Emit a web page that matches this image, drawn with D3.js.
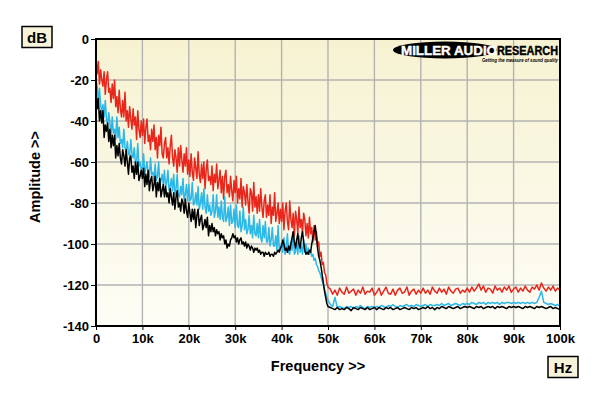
<!DOCTYPE html>
<html>
<head>
<meta charset="utf-8">
<script src="https://cdn.jsdelivr.net/npm/d3@7"></script>
<style>
  html, body { margin: 0; padding: 0; background: #ffffff; }
  svg { display: block; }
  text { font-family: 'Liberation Sans', Arial, sans-serif; }
</style>
</head>
<body>
<svg id="chart" width="600" height="396"></svg>
<script>
// frequency grid (kHz): 0.25k steps up to 50k, then 0.5k steps to 100k
const freqFine = d3.range(0, 50.001, 0.25)
const freqCoarse = d3.range(50.5, 100.001, 0.5)
const freqK = freqFine.concat(freqCoarse)

// amplitude traces (dB)
const redDb = [
  // 0-5k
  -10, -17, -11, -22, -15, -20, -23, -16, -27, -20, -16, -26, -24, -31, -22, -29, -20, -33, -28, -36,
  // 5-10k
  -25, -34, -38, -30, -38, -26, -40, -35, -43, -33, -39, -44, -34, -42, -38, -49, -35, -44, -48, -40,
  // 10-15k
  -47, -39, -51, -43, -39, -50, -47, -54, -44, -50, -42, -54, -48, -58, -47, -52, -43, -56, -58, -51,
  // 15-20k
  -48, -58, -53, -61, -52, -47, -58, -62, -54, -58, -65, -53, -62, -52, -59, -65, -56, -62, -53, -66,
  // 20-25k
  -59, -67, -56, -65, -69, -58, -63, -68, -55, -66, -70, -61, -68, -60, -73, -64, -59, -69, -67, -71,
  // 25-30k
  -62, -74, -66, -70, -61, -73, -69, -64, -75, -67, -78, -67, -64, -75, -71, -77, -67, -74, -79, -69,
  // 30-35k
  -75, -67, -80, -73, -78, -68, -82, -72, -75, -81, -71, -79, -85, -73, -75, -84, -70, -82, -77, -85,
  // 35-40k
  -76, -84, -73, -82, -87, -79, -76, -87, -81, -86, -76, -90, -82, -86, -75, -89, -85, -80, -90, -83,
  // 40-45k
  -89, -80, -93, -84, -80, -89, -93, -79, -88, -92, -85, -96, -84, -88, -95, -82, -92, -88, -95, -85,
  // 45-50k
  -88, -96, -90, -97, -87, -95, -92, -99, -91, -98, -94, -101, -99, -106, -104, -110, -109, -114, -115, -119,
  -121,
  // 50.5-60k
  -122, -124.5, -122.5, -125, -121.5, -123.5, -124.5, -121, -124, -123, -122, -125, -122.5, -124, -121, -124.5, -123, -123.5, -121.5, -125,
  // 60.5-70k
  -123.5, -121.5, -125, -123, -121, -124, -124.5, -122, -125, -122.5, -121.5, -124, -123.5, -121, -125, -123, -122, -124.5, -122.5, -124,
  // 70.5-80k
  -121.5, -124, -122.5, -124.5, -121, -123, -124, -121.5, -123.5, -122, -124.5, -121, -123, -124, -122, -121.5, -124, -122.5, -123.5, -121.5,
  // 80.5-90k
  -123.5, -121, -123, -121.5, -119.5, -122.5, -120.5, -123.5, -121.5, -122, -124, -120.5, -122.5, -121.5, -123.5, -121, -122.5, -120.5, -123.5, -122,
  // 90.5-100k
  -121, -123.5, -121.5, -123, -120.5, -122.5, -123.5, -121, -122, -120, -122.5, -119, -121.5, -123, -121, -122.5, -120.5, -123, -121.5, -122.5
]

const cyanDb = [
  // 0-5k
  -20, -23, -31, -24, -32, -36, -32, -38, -30, -39, -42, -36, -41, -47, -38, -46, -44, -49, -38, -48,
  // 5-10k
  -43, -51, -49, -53, -44, -53, -55, -50, -56, -57, -49, -56, -58, -53, -61, -60, -51, -62, -60, -64,
  // 10-15k
  -63, -56, -66, -63, -60, -66, -67, -58, -66, -65, -69, -61, -69, -67, -60, -71, -69, -66, -71, -64,
  // 15-20k
  -72, -70, -64, -74, -72, -68, -74, -66, -76, -73, -66, -76, -77, -72, -76, -68, -79, -76, -71, -79,
  // 20-25k
  -71, -79, -78, -70, -81, -80, -75, -81, -72, -83, -80, -75, -83, -73, -82, -85, -76, -84, -81, -86,
  // 25-30k
  -84, -76, -87, -84, -76, -87, -82, -88, -79, -87, -89, -77, -89, -87, -82, -91, -81, -90, -89, -83,
  // 30-35k
  -92, -81, -91, -92, -84, -94, -91, -82, -93, -88, -95, -93, -86, -95, -91, -97, -86, -95, -96, -90,
  // 35-40k
  -97, -88, -97, -99, -91, -97, -89, -99, -99, -92, -101, -98, -92, -101, -101, -96, -103, -91, -103, -101,
  // 40-45k
  -100, -104, -97, -105, -102, -95, -104, -105, -99, -103, -94, -105, -104, -98, -105, -96, -104, -101, -105, -98,
  // 45-50k
  -104, -100, -105, -102, -105, -103, -106, -105, -108, -107, -110, -111, -113, -114, -116, -118, -120, -122, -124, -126,
  -127.5,
  // 50.5-60k
  -129.5, -130.5, -126, -131, -130.5, -131, -131.5, -130.5, -131, -130.5, -131.5, -130.5, -131, -130, -131, -131.5, -130.5, -131, -130.5, -131,
  // 60.5-70k
  -130.5, -131, -130, -130.5, -131, -130, -130.5, -129.5, -130.5, -131, -130, -130.5, -130, -129.5, -130.5, -130, -130.5, -129.5, -130, -130.5,
  // 70.5-80k
  -130, -129.5, -130.5, -129.5, -130, -130, -129.5, -130, -129, -130, -129.5, -129, -130, -129.5, -129, -129.5, -130, -129, -129.5, -129,
  // 80.5-90k
  -129.5, -128.5, -129, -129.5, -128.5, -129, -128.5, -129.5, -128.5, -129, -128.5, -129, -128.5, -129.5, -128.5, -129, -128.5, -128.5, -129, -128.5,
  // 90.5-100k
  -129, -128.5, -129, -128.5, -129, -128.5, -129, -128.5, -129, -128.5, -126, -123, -128.5, -129, -129.5, -129, -129.5, -130, -129.5, -130.5
]

const blackDb = [
  // 0-5k
  -26, -34, -29, -40, -35, -41, -35, -48, -42, -45, -41, -50, -44, -53, -47, -52, -47, -58, -52, -57,
  // 5-10k
  -51, -58, -61, -54, -57, -62, -54, -60, -66, -58, -57, -65, -62, -68, -60, -66, -60, -69, -67, -64,
  // 10-15k
  -68, -63, -72, -66, -71, -64, -74, -69, -67, -74, -71, -67, -77, -70, -74, -68, -77, -74, -71, -77,
  // 15-20k
  -72, -77, -75, -80, -73, -77, -81, -75, -83, -77, -74, -82, -80, -84, -78, -80, -85, -78, -84, -87,
  // 20-25k
  -80, -85, -89, -83, -88, -83, -92, -86, -83, -91, -88, -86, -93, -91, -88, -92, -87, -96, -91, -94,
  // 25-30k
  -90, -94, -92, -96, -93, -95, -94, -98, -95, -97, -96, -100, -98, -102, -100, -101, -98, -97, -95, -97,
  // 30-35k
  -96, -99, -97, -100, -98, -97, -100, -99, -101, -99, -102, -100, -101, -103, -101, -102, -104, -102, -103, -102,
  // 35-40k
  -104, -103, -105, -104, -104, -106, -104, -105, -105, -104, -106, -105, -105, -106, -104, -105, -104, -103, -104, -102,
  // 40-45k
  -101, -98, -100, -103, -102, -104, -101, -103, -100, -97, -94, -99, -102, -98, -95, -100, -102, -97, -94, -99,
  // 45-50k
  -103, -105, -104, -105, -103, -104, -100, -97, -94, -91, -96, -102, -106, -108, -111, -115, -119, -123, -126, -129,
  -130.5,
  // 50.5-60k
  -131, -131.5, -132, -131, -132, -131.5, -132, -131, -131.5, -132.5, -131, -131.5, -132, -131, -131.5, -132, -131, -132, -131.5, -131,
  // 60.5-70k
  -132, -131, -131.5, -132, -131, -131.5, -131, -132, -131.5, -131, -132, -131.5, -131, -131.5, -132, -131, -131.5, -131, -132, -131.5,
  // 70.5-80k
  -131, -131.5, -130.5, -131.5, -131, -132, -131, -131.5, -130.5, -131, -131.5, -130.5, -131, -131.5, -131, -130.5, -131.5, -131, -130.5, -131,
  // 80.5-90k
  -130.5, -131, -131.5, -130.5, -131, -130.5, -131.5, -131, -130.5, -131, -130.5, -131.5, -130.5, -131, -130.5, -131, -131.5, -130.5, -131, -130.5,
  // 90.5-100k
  -131, -130.5, -131, -131.5, -130.5, -131, -130.5, -131, -131.5, -130.5, -131, -130.5, -131, -131.5, -131, -130.5, -131.5, -131, -131.5, -132
]

const xTicks = [0, 10, 20, 30, 40, 50, 60, 70, 80, 90, 100]
const xTickLabels = ['0', '10k', '20k', '30k', '40k', '50k', '60k', '70k', '80k', '90k', '100k']
const yTicks = [0, -20, -40, -60, -80, -100, -120, -140]

const SERIES = [
  { name: 'red', values: redDb, color: '#e8261c' },
  { name: 'cyan', values: cyanDb, color: '#2cb8e8' },
  { name: 'black', values: blackDb, color: '#000000' }
]

const plot = { left: 96, right: 560, top: 39, bottom: 326 }

const svg = d3.select('#chart')

const x = d3.scaleLinear().domain([0, 100]).range([plot.left, plot.right])
const y = d3.scaleLinear().domain([-140, 0]).range([plot.bottom, plot.top])

// 背景グラデーション
const defs = svg.append('defs')
const grad = defs.append('linearGradient')
  .attr('id', 'bg').attr('x1', 0).attr('y1', 0).attr('x2', 0).attr('y2', 1)
grad.append('stop').attr('offset', '0%').attr('stop-color', '#f6f2d1')
grad.append('stop').attr('offset', '100%').attr('stop-color', '#fefdf6')

defs.append('clipPath').attr('id', 'clip')
  .append('rect')
  .attr('x', plot.left).attr('y', plot.top)
  .attr('width', plot.right - plot.left).attr('height', plot.bottom - plot.top)

svg.append('rect')
  .attr('x', plot.left).attr('y', plot.top)
  .attr('width', plot.right - plot.left).attr('height', plot.bottom - plot.top)
  .attr('fill', 'url(#bg)')

// グリッド
const grid = svg.append('g')
grid.selectAll('line.v')
  .data(xTicks.slice(1, -1))
  .enter().append('line')
  .attr('x1', d => x(d)).attr('x2', d => x(d))
  .attr('y1', plot.top).attr('y2', plot.bottom)
  .attr('stroke', '#b3b3b3').attr('stroke-width', 1.4)
grid.selectAll('line.h')
  .data(yTicks.slice(1, -1))
  .enter().append('line')
  .attr('y1', d => y(d)).attr('y2', d => y(d))
  .attr('x1', plot.left).attr('x2', plot.right)
  .attr('stroke', '#b3b3b3').attr('stroke-width', 1.4)

// トレース
const line = d3.line()
  .defined((d, i) => i < freqK.length && d != null)
  .x((d, i) => x(freqK[i]))
  .y(d => y(d))

const traces = svg.append('g').attr('clip-path', 'url(#clip)')
SERIES.forEach(s => {
  traces.append('path')
    .datum(s.values)
    .attr('d', line)
    .attr('fill', 'none')
    .attr('stroke', s.color)
    .attr('stroke-width', 1.5)
    .attr('stroke-linejoin', 'round')
})

// 軸
const xAxis = d3.axisBottom(x)
  .tickValues(xTicks)
  .tickFormat((d, i) => xTickLabels[i])
  .tickSize(4)
  .tickSizeOuter(0)
const yAxis = d3.axisLeft(y)
  .tickValues(yTicks)
  .tickFormat(d => d)
  .tickSize(5)
  .tickSizeOuter(0)

const gx = svg.append('g')
  .attr('transform', `translate(0,${plot.bottom})`)
  .call(xAxis)
const gy = svg.append('g')
  .attr('transform', `translate(${plot.left},0)`)
  .call(yAxis)

;[gx, gy].forEach(g => {
  g.select('.domain').remove()
  g.selectAll('.tick line').attr('stroke', '#000').attr('stroke-width', 1)
  g.selectAll('.tick text')
    .attr('fill', '#000')
    .attr('font-size', 13)
    .attr('font-weight', 'bold')
    .attr('font-family', "'Liberation Sans', Arial, sans-serif")
})
gx.selectAll('.tick text').attr('dy', '0.95em').attr('y', 5)
gy.selectAll('.tick text').attr('x', -7)

// 枠
svg.append('rect')
  .attr('x', plot.left).attr('y', plot.top)
  .attr('width', plot.right - plot.left).attr('height', plot.bottom - plot.top)
  .attr('fill', 'none').attr('stroke', '#000').attr('stroke-width', 2)

// 軸タイトル
svg.append('text')
  .attr('x', 318).attr('y', 371)
  .attr('text-anchor', 'middle')
  .attr('font-size', 14.5).attr('font-weight', 'bold')
  .text('Frequency >>')

svg.append('text')
  .attr('transform', 'translate(40,177) rotate(-90)')
  .attr('text-anchor', 'middle')
  .attr('font-size', 14.5).attr('font-weight', 'bold')
  .text('Amplitude >>')

// 単位ボックス
function unitBox(cx, cy, label) {
  const g = svg.append('g')
  g.append('rect')
    .attr('x', cx - 15).attr('y', cy - 10.5)
    .attr('width', 30).attr('height', 21)
    .attr('fill', '#f6f3da').attr('stroke', '#000').attr('stroke-width', 1.5)
  g.append('text')
    .attr('x', cx).attr('y', cy + 5.5)
    .attr('text-anchor', 'middle')
    .attr('font-size', 15).attr('font-weight', 'bold')
    .text(label)
}
unitBox(37, 37, 'dB')
unitBox(563, 367, 'Hz')

// ロゴ
const logo = svg.append('g')
logo.append('ellipse')
  .attr('cx', 445).attr('cy', 50).attr('rx', 52).attr('ry', 8.5)
  .attr('fill', '#000')
logo.append('text')
  .attr('x', 401).attr('y', 54.5)
  .attr('font-size', 12).attr('font-weight', 'bold')
  .attr('font-family', "'DejaVu Sans', sans-serif")
  .attr('fill', '#fff').attr('stroke', '#fff').attr('stroke-width', 0.4)
  .attr('textLength', 96).attr('lengthAdjust', 'spacingAndGlyphs')
  .text('MILLER AUDIO')
logo.append('text')
  .attr('x', 497).attr('y', 54.5)
  .attr('font-size', 12).attr('font-weight', 'bold')
  .attr('font-family', "'DejaVu Sans', sans-serif")
  .attr('fill', '#000').attr('stroke', '#000').attr('stroke-width', 0.4)
  .attr('textLength', 61).attr('lengthAdjust', 'spacingAndGlyphs')
  .text('RESEARCH')
logo.append('text')
  .attr('x', 482).attr('y', 61.5)
  .attr('font-size', 5).attr('font-weight', 'bold').attr('font-style', 'italic')
  .attr('fill', '#000')
  .attr('textLength', 76).attr('lengthAdjust', 'spacingAndGlyphs')
  .text('Getting the measure of sound quality')
</script>
</body>
</html>
